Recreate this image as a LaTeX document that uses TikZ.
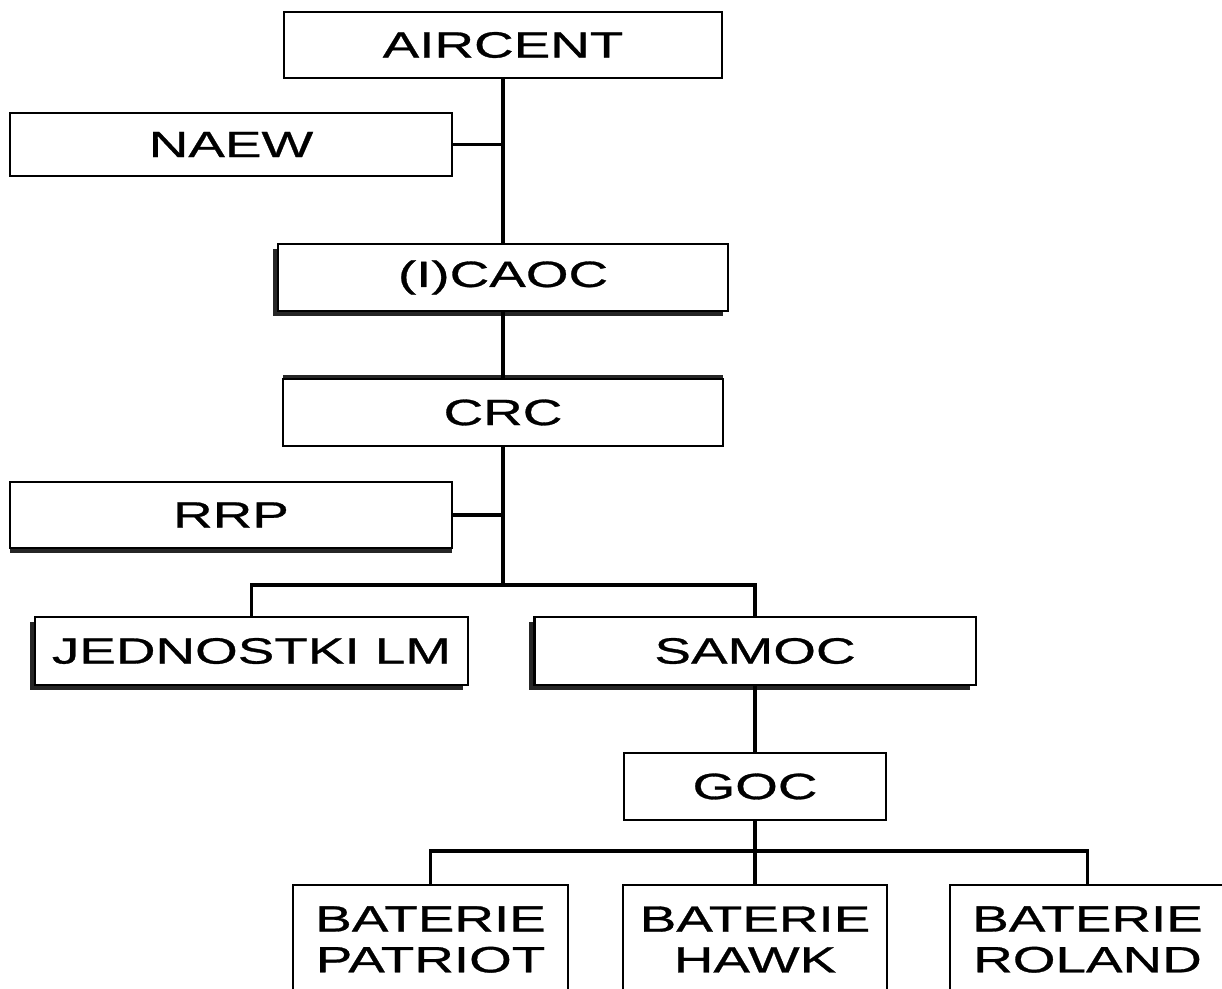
\documentclass[tikz,border=0pt]{standalone}
\usepackage{fontspec}
\newfontfamily\orgfont{Liberation Sans}[FakeStretch=1.5,FakeBold=0.8]
\usetikzlibrary{shadows}

\begin{document}
\begin{tikzpicture}[x=0.025cm,y=-0.025cm,
    box/.style={draw,line width=1.5pt,fill=white,inner sep=0pt,align=center,
        font=\orgfont\fontsize{26}{29}\selectfont},
    shadowld/.style={drop shadow={shadow xshift=-0.13cm,shadow yshift=-0.13cm,fill=black!85,opacity=1}},
    shadowup/.style={drop shadow={shadow xshift=0cm,shadow yshift=0.1cm,fill=black!85,opacity=1}},
    shadowdn/.style={drop shadow={shadow xshift=0cm,shadow yshift=-0.13cm,fill=black!85,opacity=1}},
    link/.style={line width=2.2pt}]
    \path[use as bounding box,clip] (0,0) rectangle (1222,988);
    \node[box,minimum width=10.95cm,minimum height=1.65cm] (air) at (503,45) {AIRCENT};
    \node[box,minimum width=11.05cm,minimum height=1.575cm] (naew) at (231,144.5) {NAEW};
    \node[box,shadowld,minimum width=11.25cm,minimum height=1.675cm] (caoc) at (503,277.5) {(I)CAOC};
    \node[box,shadowup,minimum width=11cm,minimum height=1.675cm] (crc) at (503,412.5) {CRC};
    \node[box,shadowdn,minimum width=11.05cm,minimum height=1.65cm] (rrp) at (231,515) {RRP};
    \node[box,shadowld,minimum width=10.825cm,minimum height=1.7cm] (jed) at (251.5,651) {JEDNOSTKI LM};
    \node[box,shadowld,minimum width=11.025cm,minimum height=1.7cm] (sam) at (755,651) {SAMOC};
    \node[box,minimum width=6.55cm,minimum height=1.675cm] (goc) at (755,786.5) {GOC};
    \node[box,minimum width=6.875cm,minimum height=2.725cm] (pat) at (430.5,939.5) {BATERIE\\PATRIOT};
    \node[box,minimum width=6.6cm,minimum height=2.725cm] (hawk) at (755,939.5) {BATERIE\\HAWK};
    \node[box,minimum width=6.875cm,minimum height=2.725cm] (rol) at (1087.5,939.5) {BATERIE\\ROLAND};
    \coordinate (br1) at (503,585);
    \coordinate (br2) at (755,851);
    \draw[link] (air) -- (caoc);
    \draw[link] (naew.east) -- (naew.east -| air.south);
    \draw[link] (caoc) -- (crc);
    \draw[link] (rrp.east) -- (rrp.east -| crc.south);
    \draw[link] (crc) -- (br1);
    \draw[link] (jed.north) |- (br1) -| (sam.north);
    \draw[link] (sam) -- (goc);
    \draw[link] (goc) -- (hawk);
    \draw[link] (pat.north) |- (br2) -| (rol.north);
\end{tikzpicture}
\end{document}
